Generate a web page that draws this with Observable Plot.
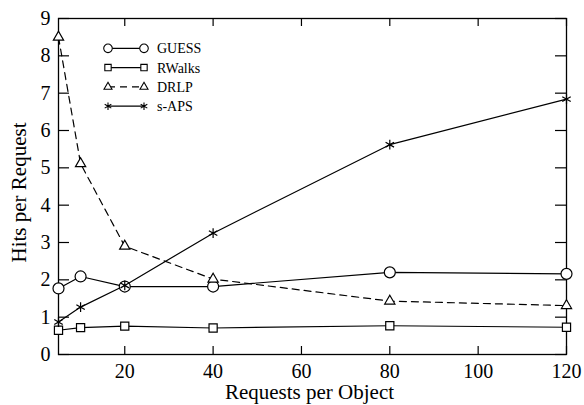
<!DOCTYPE html>
<html><head><meta charset="utf-8">
<script src="https://cdn.jsdelivr.net/npm/d3@7"></script>
<script src="https://cdn.jsdelivr.net/npm/@observablehq/plot@0.6"></script>
<style>body{margin:0;background:#fff}</style>
</head><body><div id="chart"></div>
<script>
// ---- data ----
const requests = [5, 10, 20, 40, 80, 120];
const seriesNames = ["GUESS", "RWalks", "DRLP", "s-APS"];
const guess  = [1.77, 2.09, 1.82, 1.82, 2.20, 2.16];
const rwalks = [0.65, 0.72, 0.76, 0.71, 0.77, 0.73];
const drlp   = [8.50, 5.11, 2.90, 2.02, 1.43, 1.31];
const saps   = [0.87, 1.27, 1.85, 3.25, 5.62, 6.84];
const xTicks = [20, 40, 60, 80, 100, 120];
const yTicks = [0, 1, 2, 3, 4, 5, 6, 7, 8, 9];
const xLabel = "Requests per Object";
const yLabel = "Hits per Request";

// ---- layout / style ----
const W = 584, H = 405, mL = 58, mR = 18, mT = 18, mB = 51;
const pw = W - mL - mR, ph = H - mT - mB;
const font = "'Liberation Serif', 'Times New Roman', serif";
const values = {"GUESS": guess, "RWalks": rwalks, "DRLP": drlp, "s-APS": saps};
const styleOf = {
  "GUESS":  {symbol: "circle",   r: 5.5, dash: null, fill: "white"},
  "RWalks": {symbol: "square",   r: 4.6, dash: null, fill: "white"},
  "DRLP":   {symbol: "triangle", r: 3.8, dash: "7,5", fill: "white"},
  "s-APS":  {symbol: "asterisk", r: 4.6, dash: null, fill: "none"}
};

const marks = [
  Plot.frame({stroke: "black", strokeWidth: 1.3}),
  Plot.ruleX(xTicks, {x: d => d, insetTop: ph - 8, stroke: "black", strokeWidth: 1.2}),
  Plot.ruleX(xTicks, {x: d => d, insetBottom: ph - 8, stroke: "black", strokeWidth: 1.2}),
  Plot.ruleY(yTicks, {y: d => d, insetRight: pw - 11, stroke: "black", strokeWidth: 1.2}),
  Plot.ruleY(yTicks, {y: d => d, insetLeft: pw - 11, stroke: "black", strokeWidth: 1.2}),
  Plot.axisX({ticks: xTicks, tickSize: 0, tickPadding: 9, label: null, fontSize: 20, fill: "black"}),
  Plot.axisY({ticks: yTicks, tickSize: 0, tickPadding: 8, label: null, fontSize: 20, fill: "black"}),
  Plot.text([xLabel], {frameAnchor: "bottom", textAnchor: "middle", lineAnchor: "middle", dy: 38, dx: -3, fontSize: 21, fill: "black"}),
  Plot.text([yLabel], {frameAnchor: "left", textAnchor: "middle", lineAnchor: "middle", dx: -39, dy: 6, rotate: -90, fontSize: 21, fill: "black"})
];

for (const s of seriesNames) {
  const rows = requests.map((x, i) => ({x, y: values[s][i]}));
  const st = styleOf[s];
  marks.push(Plot.line(rows, {x: "x", y: "y", stroke: "black", strokeWidth: 1.2, strokeDasharray: st.dash}));
}
for (const s of seriesNames) {
  const rows = requests.map((x, i) => ({x, y: values[s][i]}));
  const st = styleOf[s];
  marks.push(Plot.dot(rows, {x: "x", y: "y", symbol: () => st.symbol, r: st.r, stroke: "black", strokeWidth: 1.2, fill: st.fill}));
}

const chart = Plot.plot({
  width: W, height: H,
  marginLeft: mL, marginRight: mR, marginTop: mT, marginBottom: mB,
  style: {fontFamily: font, fontSize: "20px", background: "white", color: "black", overflow: "visible"},
  x: {domain: [5, 120]},
  y: {domain: [0, 9]},
  symbol: {type: "identity"},
  marks
});

// ---- legend (guide, pixel space) ----
const svg = d3.select(chart);
const lg = svg.append("g").attr("font-family", font).attr("font-size", 14).attr("text-anchor", "start");
const lx1 = mL + 50, lx2 = mL + 86, ltx = mL + 99, ly0 = mT + 30.3, lstep = 19.3;
const symMap = {circle: d3.symbolCircle, square: d3.symbolSquare, triangle: d3.symbolTriangle, asterisk: d3.symbolAsterisk};
seriesNames.forEach((s, i) => {
  const st = styleOf[s];
  const y = ly0 + i * lstep;
  lg.append("line").attr("x1", lx1).attr("x2", lx2).attr("y1", y).attr("y2", y)
    .attr("stroke", "black").attr("stroke-width", 1.2).attr("stroke-dasharray", st.dash);
  const rr = st.r * 0.78;
  const path = d3.symbol(symMap[st.symbol], rr * rr * Math.PI)();
  for (const x of [lx1, lx2]) {
    lg.append("path").attr("d", path).attr("transform", `translate(${x},${y})`)
      .attr("fill", st.fill).attr("stroke", "black").attr("stroke-width", 1.1);
  }
  lg.append("text").attr("x", ltx).attr("y", y).attr("dy", "0.35em").attr("fill", "black").text(s);
});

document.getElementById("chart").appendChild(chart);
</script>
</body></html>
